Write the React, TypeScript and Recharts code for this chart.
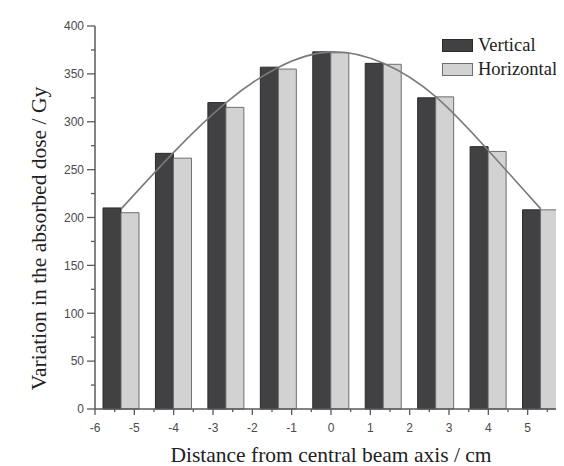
import { BarChart, Bar, Line, XAxis, YAxis, Legend } from 'recharts';

// bar positions along the beam profile (cm), as drawn
const POSITIONS = [-5.33, -4, -2.67, -1.33, 0, 1.33, 2.67, 4, 5.33];
const VERTICAL = [210, 267, 320, 357, 373, 361, 325, 274, 208];
const HORIZONTAL = [205, 262, 315, 355, 372, 360, 326, 269, 208];
// fitted profile
const FIT = [209, 268, 320, 357, 373, 361, 326, 270, 209];

const SERIES = [
  { key: 'vertical', name: 'Vertical', fill: '#414143', stroke: '#2a2a2a' },
  { key: 'horizontal', name: 'Horizontal', fill: '#d2d2d2', stroke: '#6e6e6e' },
];

// the frame's right end (6 cm) is cropped off in the original
const X_TICKS = [
  -6, -5.5, -5, -4.5, -4, -3.5, -3, -2.5, -2, -1.5, -1, -0.5, 0, 0.5, 1, 1.5, 2, 2.5, 3, 3.5, 4,
  4.5, 5, 5.5,
];
const Y_TICKS = [0, 25, 50, 75, 100, 125, 150, 175, 200, 225, 250, 275, 300, 325, 350, 375, 400];
const RIGHT_TICKS = [0, 0.1, 0.2, 0.3, 0.4, 0.5, 0.6, 0.7, 0.8, 0.9, 1];

const data = POSITIONS.map((pos, i) => ({
  pos,
  vertical: VERTICAL[i],
  horizontal: HORIZONTAL[i],
  fit: FIT[i],
}));

const AXIS = '#5a5a5a';
const TICK_FONT = { fontFamily: 'Liberation Sans, Arial, sans-serif', fontSize: 12, fill: '#4a4a4a' };
const SERIF = 'Liberation Serif, Times New Roman, serif';
const TITLE_SIZE = 21.5;

function LeftTick({ x, y, payload }: any) {
  const major = payload.value % 50 === 0;
  return (
    <g>
      <line x1={x} x2={x - (major ? 8 : 4)} y1={y} y2={y} stroke={AXIS} strokeWidth={1.3} />
      {major && (
        <text x={x - 11} y={y} dy="0.36em" textAnchor="end" {...TICK_FONT}>
          {payload.value}
        </text>
      )}
    </g>
  );
}

function BottomTick({ x, y, payload }: any) {
  const major = Number.isInteger(payload.value);
  return (
    <g>
      <line x1={x} x2={x} y1={y} y2={y + (major ? 6 : 3)} stroke={AXIS} strokeWidth={1.3} />
      {major && (
        <text x={x} y={y + 19} dy="0.36em" textAnchor="middle" {...TICK_FONT}>
          {payload.value}
        </text>
      )}
    </g>
  );
}

function TopTick({ x, y, payload }: any) {
  const major = Number.isInteger(payload.value);
  return <line x1={x} x2={x} y1={y} y2={y + (major ? 6 : 3)} stroke={AXIS} strokeWidth={1.3} />;
}

function RightTick({ x, y, index }: any) {
  const major = index % 2 === 0;
  return <line x1={x} x2={x - (major ? 6 : 3)} y1={y} y2={y} stroke={AXIS} strokeWidth={1.3} />;
}

// y title sits a little below the plot's middle in the original
function YTitle({ viewBox }: any) {
  const cx = viewBox.x + 30;
  const cy = viewBox.y + viewBox.height / 2 + 21;
  return (
    <text
      x={cx}
      y={cy}
      dy="0.35em"
      transform={`rotate(-90 ${cx} ${cy})`}
      textAnchor="middle"
      fontFamily={SERIF}
      fontSize={TITLE_SIZE}
      fill="#222"
    >
      Variation in the absorbed dose / Gy
    </text>
  );
}

function LegendBox() {
  return (
    <div style={{ fontFamily: SERIF, fontSize: 18.5, color: '#222', lineHeight: '24px', whiteSpace: 'nowrap' }}>
      {SERIES.map((s) => (
        <div key={s.key} style={{ display: 'flex', alignItems: 'center' }}>
          <span
            style={{
              display: 'inline-block',
              width: 29,
              height: 11,
              background: s.fill,
              border: `1px solid ${s.stroke}`,
              marginRight: 5,
              flexShrink: 0,
            }}
          />
          {s.name}
        </div>
      ))}
    </div>
  );
}

export default function App() {
  return (
    <div style={{ width: 556, height: 458, overflow: 'hidden', position: 'relative' }}>
      <BarChart
        width={579}
        height={458}
        data={data}
        margin={{ top: 18, right: 0, bottom: 0, left: 0 }}
        barGap={0}
        barSize={18}
      >
        <XAxis xAxisId="cat" dataKey="pos" type="category" hide height={0} />
        <XAxis
          xAxisId="num"
          dataKey="pos"
          type="number"
          domain={[-6, 6]}
          ticks={X_TICKS}
          interval={0}
          allowDataOverflow
          height={57}
          stroke={AXIS}
          strokeWidth={1.5}
          tickLine={false}
          tickSize={0}
          tickMargin={0}
          tick={<BottomTick />}
          label={{
            value: 'Distance from central beam axis / cm',
            position: 'insideBottom',
            offset: 4,
            style: { fontFamily: SERIF, fontSize: TITLE_SIZE, fill: '#222' },
          }}
        />
        <XAxis
          xAxisId="top"
          dataKey="pos"
          orientation="top"
          type="number"
          domain={[-6, 6]}
          ticks={X_TICKS}
          interval={0}
          allowDataOverflow
          height={0}
          stroke={AXIS}
          strokeWidth={1.5}
          tickLine={false}
          tickSize={0}
          tickMargin={0}
          tick={<TopTick />}
        />
        <YAxis
          yAxisId="left"
          domain={[0, 400]}
          ticks={Y_TICKS}
          interval={0}
          width={87}
          stroke={AXIS}
          strokeWidth={1.5}
          tickLine={false}
          tickSize={0}
          tickMargin={0}
          tick={<LeftTick />}
          label={<YTitle />}
        />
        <YAxis
          yAxisId="right"
          orientation="right"
          domain={[0, 1]}
          ticks={RIGHT_TICKS}
          interval={0}
          width={20}
          stroke={AXIS}
          strokeWidth={1.5}
          tickLine={false}
          tickSize={0}
          tickMargin={0}
          tick={<RightTick />}
        />
        <Legend
          layout="horizontal"
          verticalAlign="middle"
          align="center"
          content={<LegendBox />}
          wrapperStyle={{ position: 'absolute', top: 25, left: 434, width: 122 }}
        />
        {SERIES.map((s) => (
          <Bar
            key={s.key}
            xAxisId="cat"
            yAxisId="left"
            dataKey={s.key}
            name={s.name}
            fill={s.fill}
            stroke={s.stroke}
            strokeWidth={1}
            isAnimationActive={false}
          />
        ))}
        <Line
          xAxisId="cat"
          yAxisId="left"
          dataKey="fit"
          type="natural"
          stroke="#7a7a7a"
          strokeWidth={1.6}
          dot={false}
          legendType="none"
          isAnimationActive={false}
        />
      </BarChart>
    </div>
  );
}
